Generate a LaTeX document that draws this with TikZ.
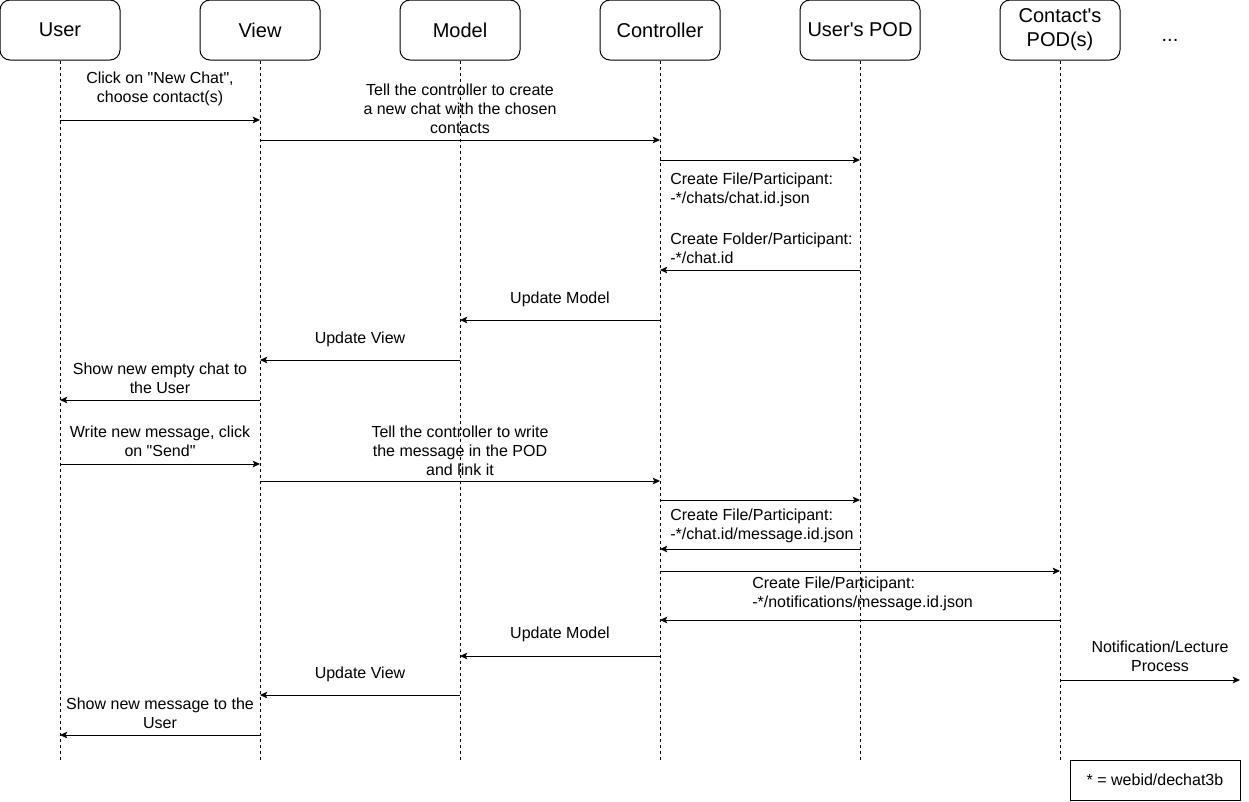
\documentclass[tikz,border=0pt]{standalone}
\usepackage{fontspec}
\setmainfont{Liberation Sans}[Ligatures=TeXOff]
\usetikzlibrary{arrows.meta}
\newcommand{\msgfont}{\fontsize{12}{14.25}\selectfont}
\newcommand{\headfont}{\fontsize{15}{18}\selectfont}

\begin{document}
\begin{tikzpicture}[x=0.75pt,y=-0.75pt,
  actor/.style={draw,line width=0.75pt,rounded corners=7.5pt,minimum width=90pt,
    minimum height=45pt,align=center,font=\headfont},
  lifeline/.style={line width=0.75pt,dash pattern=on 2.25pt off 2.25pt},
  msg/.style={line width=0.75pt,-{Stealth[length=5.5pt,width=5pt,inset=1.3pt]}},
  lbl/.style={font=\msgfont,align=center,inner sep=0pt},
  lbll/.style={lbl,align=left,anchor=west}]

\useasboundingbox (0,0) rectangle (1249,801);

% participants
\node[actor] (user)  at (60,30)   {User};
\node[actor] (view)  at (260,30)  {View};
\node[actor] (model) at (460,30)  {Model};
\node[actor] (ctrl)  at (660,30)  {Controller};
\node[actor] (upod)  at (860,30)  {User's POD};
\node[actor] (cpod)  at (1060,30) {Contact's\\POD(s)};
\node[font=\headfont] (more) at (1170,40) {...};

% lifelines
\coordinate (bottom) at (0,760);
\foreach \a in {user,view,model,ctrl,upod,cpod}
  \draw[lifeline] (\a.south) -- (\a |- bottom);

% messages
\foreach \from/\to/\y in {user/view/120, view/ctrl/140, ctrl/upod/160, upod/ctrl/270,
    ctrl/model/320, model/view/360, view/user/400,
    user/view/464, view/ctrl/481, ctrl/upod/500, upod/ctrl/549, ctrl/cpod/571,
    cpod/ctrl/620, ctrl/model/656, model/view/695, view/user/735}
  \draw[msg] (\from |- 0,\y) -- (\to |- 0,\y);

\coordinate (outside) at (1240,680);
\draw[msg] (cpod |- outside) -- (outside);

% labels
\node[lbl] (newchat) at (160,88.5) {Click on "New Chat",\\choose contact(s)};
\node[lbl] (tellcreate) at (460,108.5) {Tell the controller to create\\a new chat with the chosen\\contacts};
\node[lbll] (mkfile) at (670,190) {Create File/Participant:\\-*/chats/chat.id.json};
\node[lbll] (mkfolder) at (670,248) {Create Folder/Participant:\\-*/chat.id};
\node[lbl] (updmodel) at (560,299) {Update Model};
\node[lbl] (updview) at (360,339) {Update View};
\node[lbl] (showchat) at (160,378.5) {Show new empty chat to\\the User};
\node[lbl] (writemsg) at (160,441.5) {Write new message, click\\on "Send"};
\node[lbl] (tellwrite) at (460,451) {Tell the controller to write\\the message in the POD\\and link it};
\node[lbll] (mkmsg) at (670,525.5) {Create File/Participant:\\-*/chat.id/message.id.json};
\node[lbll] (mknotif) at (752,593.5) {Create File/Participant:\\-*/notifications/message.id.json};
\node[lbl] (updmodel2) at (560,634) {Update Model};
\node[lbl] (updview2) at (360,674) {Update View};
\node[lbl] (showmsg) at (160,713.5) {Show new message to the\\User};
\node[lbl] (notif) at (1160,656.5) {Notification/Lecture\\Process};

% legend
\node[draw,line width=0.75pt,minimum width=127.5pt,minimum height=30pt,font=\msgfont]
  (legend) at (1155,780) {* = webid/dechat3b};
\end{tikzpicture}
\end{document}
